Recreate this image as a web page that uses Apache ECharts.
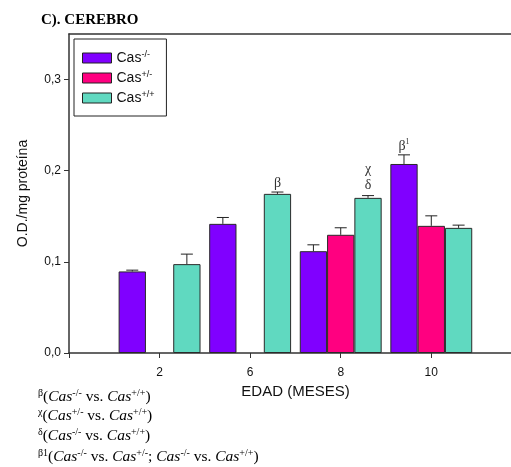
<!DOCTYPE html>
<html>
<head>
<meta charset="utf-8">
<script src="https://cdn.jsdelivr.net/npm/echarts@6/dist/echarts.min.js"></script>
<style>
  html, body { margin: 0; padding: 0; background: #fff; }
  #chart { width: 511px; height: 467px; }
</style>
</head>
<body>
<div id="chart"></div>
<script>
var ages = ["2", "6", "8", "10"];
var names = ["Cas-/-", "Cas+/-", "Cas+/+"];
// null = no bar for that group
var knockout = [0.0895, 0.1417, 0.1117, 0.2074];
var knockoutErr = [0.0014, 0.007, 0.007, 0.010];
var hetero = [null, null, 0.1297, 0.1395];
var heteroErr = [null, null, 0.0077, 0.011];
var wild = [0.0975, 0.1746, 0.1702, 0.1373];
var wildErr = [0.011, 0.002, 0.0025, 0.003];
var yTicks = [0, 0.1, 0.2, 0.3];
// significance marks: series index, group index, text
var marks = [
  { series: 2, group: 1, text: "β", dist: 3 },
  { series: 2, group: 2, text: "χ\nδ", dist: 5 },
  { series: 0, group: 3, text: "{g|β}{s|1}", dist: 10 },
];

var colors = ["#8000ff", "#ff0080", "#60d9c0"];
var values = [knockout, hetero, wild];
var errors = [knockoutErr, heteroErr, wildErr];
var barW = 27.3;

var chart = echarts.init(document.getElementById("chart"));

function barData(k) {
  var out = [];
  values[k].forEach(function (v, i) {
    if (v == null) return;
    var item = { value: [i + 1, v] };
    marks.forEach(function (m) {
      if (m.series === k && m.group === i) {
        item.label = {
          show: true,
          position: "top",
          distance: m.dist,
          formatter: m.text,
          fontFamily: "Liberation Serif",
          fontSize: 14,
          lineHeight: 16,
          color: "#333",
          rich: {
            g: { fontFamily: "Liberation Serif", fontSize: 14, color: "#333" },
            s: { fontFamily: "Liberation Serif", fontSize: 8, color: "#333", verticalAlign: "top", lineHeight: 8 },
          },
        };
      }
    });
    out.push(item);
  });
  return out;
}

var errData = [];
values.forEach(function (arr, k) {
  arr.forEach(function (v, i) {
    if (v == null) return;
    errData.push([i + 1, v, errors[k][i], k]);
  });
});

var series = names.map(function (n, k) {
  return {
    name: n,
    type: "bar",
    barWidth: barW,
    barGap: "0%",
    data: barData(k),
    itemStyle: { color: colors[k], borderColor: "#2a2a2a", borderWidth: 1 },
    z: 2,
  };
});

series.push({
  type: "custom",
  data: errData,
  z: 3,
  renderItem: function (params, api) {
    var x = api.value(0), v = api.value(1), e = api.value(2), k = api.value(3);
    var base = api.coord([x, v]);
    var top = api.coord([x, v + e]);
    var cx = base[0] + (k - 1) * barW;
    var st = { stroke: "#222", lineWidth: 1 };
    return {
      type: "group",
      children: [
        { type: "line", shape: { x1: cx, y1: base[1], x2: cx, y2: top[1] }, style: st },
        { type: "line", shape: { x1: cx - 6, y1: top[1], x2: cx + 6, y2: top[1] }, style: st },
      ],
    };
  },
});

function supText(txt) {
  // "Cas-/-" -> rich text with superscript genotype
  return "{b|Cas}{s|" + txt.slice(3) + "}";
}

function noteLine(mark, pairs) {
  var s = "{m|" + mark + "}{p|(}";
  pairs.forEach(function (p, i) {
    if (i > 0) s += "{p|; }";
    s += "{i|Cas}{u|" + p[0] + "}{p| vs. }{i|Cas}{u|" + p[1] + "}";
  });
  return s + "{p|)}";
}

var noteRich = {
  m: { fontFamily: "Liberation Serif", fontSize: 10, verticalAlign: "top", lineHeight: 10, fill: "#000" },
  p: { fontFamily: "Liberation Serif", fontSize: 15.5, lineHeight: 18, fill: "#000" },
  i: { fontFamily: "Liberation Serif", fontSize: 15.5, fontStyle: "italic", lineHeight: 18, fill: "#000" },
  u: { fontFamily: "Liberation Serif", fontSize: 10, verticalAlign: "top", lineHeight: 10, fill: "#000" },
};

var notes = [
  noteLine("β", [["-/-", "+/+"]]),
  noteLine("χ", [["+/-", "+/+"]]),
  noteLine("δ", [["-/-", "+/+"]]),
  noteLine("β1", [["-/-", "+/-"], ["-/-", "+/+"]]),
];
var noteY = [388, 407, 427, 448];

var option = {
  animation: false,
  title: {
    text: "C). CEREBRO",
    left: 36,
    top: 8,
    textStyle: { fontFamily: "Liberation Serif", fontWeight: "bold", fontSize: 15, color: "#000" },
  },
  legend: {
    data: names,
    orient: "vertical",
    left: 74,
    top: 39,
    padding: [11, 12, 11, 8],
    itemGap: 5,
    itemWidth: 29,
    itemHeight: 10,
    icon: "rect",
    borderColor: "#222",
    borderWidth: 1,
    itemStyle: { borderColor: "#222", borderWidth: 1 },
    formatter: supText,
    textStyle: {
      rich: {
        b: { fontFamily: "Liberation Sans", fontSize: 14, color: "#111", lineHeight: 16 },
        s: { fontFamily: "Liberation Sans", fontSize: 9, color: "#111", verticalAlign: "top", lineHeight: 9 },
      },
    },
  },
  grid: { left: 69, top: 34, right: 0, bottom: 114 },
  xAxis: [
    {
      type: "value",
      min: 0,
      max: 4.88,
      interval: 1,
      name: "EDAD (MESES)",
      nameLocation: "middle",
      nameGap: 30,
      nameTextStyle: { fontFamily: "Liberation Sans", fontSize: 15, color: "#111", padding: [0, 0, 0, 11] },
      splitLine: { show: false },
      axisLine: { lineStyle: { color: "#333", width: 1.5 } },
      axisTick: { length: 5, lineStyle: { color: "#333" } },
      axisLabel: {
        fontFamily: "Liberation Sans",
        fontSize: 12,
        color: "#111",
        margin: 14,
        showMaxLabel: false,
        formatter: function (v) {
          return v >= 1 && v <= ages.length && v % 1 === 0 ? ages[v - 1] : "";
        },
      },
    },
    {
      type: "value",
      position: "top",
      min: 0,
      max: 4.88,
      axisLine: { show: true, lineStyle: { color: "#333", width: 1.5 } },
      axisTick: { show: false },
      axisLabel: { show: false },
      splitLine: { show: false },
    },
  ],
  yAxis: {
    type: "value",
    min: 0,
    max: 0.35,
    interval: 0.1,
    name: "O.D./mg proteína",
    nameLocation: "middle",
    nameGap: 39,
    nameTextStyle: { fontFamily: "Liberation Sans", fontSize: 14, color: "#111" },
    splitLine: { show: false },
    axisLine: { show: true, lineStyle: { color: "#333", width: 1.5 } },
    axisTick: { show: true, length: 5, lineStyle: { color: "#333" } },
    axisLabel: {
      fontFamily: "Liberation Sans",
      fontSize: 12,
      color: "#111",
      margin: 8,
      showMaxLabel: false,
      formatter: function (v) {
        return yTicks.indexOf(Math.round(v * 10) / 10) >= 0 && Math.abs(v * 10 - Math.round(v * 10)) < 1e-6
          ? v.toFixed(1).replace(".", ",") : "";
      },
    },
  },
  graphic: notes.map(function (t, i) {
    return {
      type: "text",
      left: 38,
      top: noteY[i],
      style: { text: t, rich: noteRich },
    };
  }),
  series: series,
};

chart.setOption(option);
</script>
</body>
</html>
